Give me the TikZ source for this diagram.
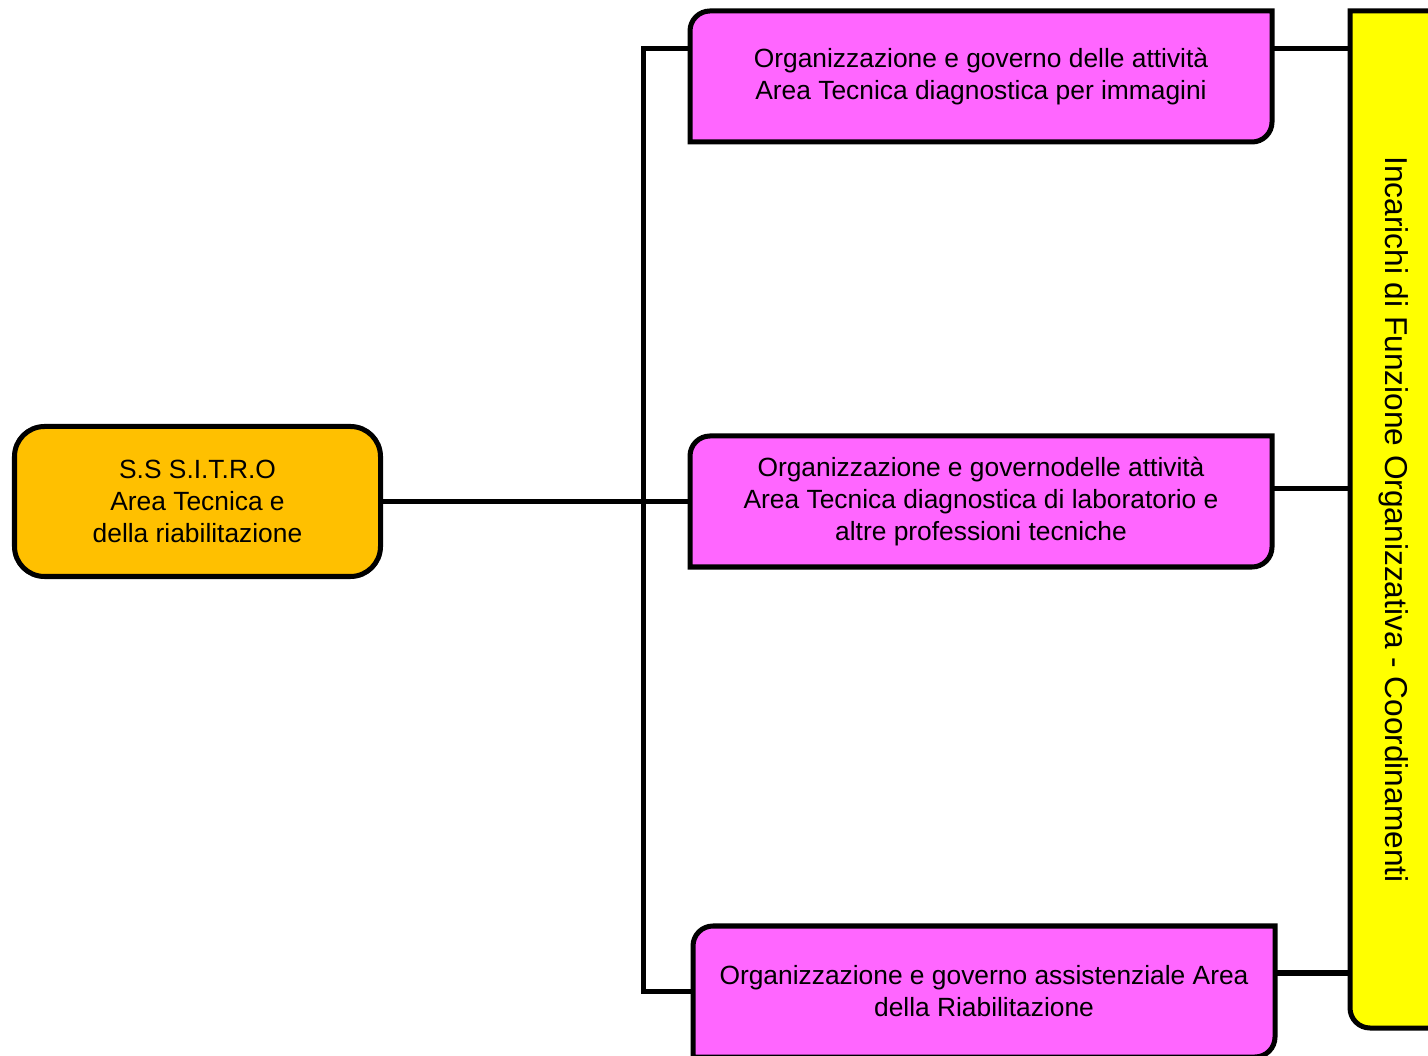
\documentclass[tikz,border=0pt]{standalone}
\usepackage{fontspec}
\setmainfont{Liberation Sans}
\usetikzlibrary{backgrounds}
\definecolor{orangebox}{HTML}{FFC000}
\definecolor{magbox}{HTML}{FF66FF}
\definecolor{yelbox}{HTML}{FFFF00}

\begin{document}
\begin{tikzpicture}[
  line width=2.85pt,
  txt/.style={align=center, inner sep=0pt, font=\fontsize{15pt}{18.2pt}\selectfont},
  unit/.style={txt, minimum width=11.54cm, minimum height=2.52cm},
  boxline/.style={draw=black, line width=2.85pt},
  wire/.style={draw=black, line width=2.85pt}
]
\useasboundingbox (0,0) rectangle (28.56,21.1);

% root
\node[txt, draw, fill=orangebox, rounded corners=6mm,
      minimum width=7.32cm, minimum height=3cm] (sitro) at (3.95,11.07)
  {S.S S.I.T.R.O\\Area Tecnica e\\della riabilitazione};

% units
\node[unit] (imm) at (19.62,19.57)
  {Organizzazione e governo delle attività\\Area Tecnica diagnostica per immagini};
\node[unit] (lab) at (19.62,11.07)
  {Organizzazione e governodelle attività\\Area Tecnica diagnostica di laboratorio e\\altre professioni tecniche};
\node[unit] (ria) at (19.68,1.27)
  {Organizzazione e governo assistenziale Area\\della Riabilitazione};

% side bar
\node[txt, minimum width=1.64cm, minimum height=20.24cm] (coord) at (27.87,10.71) {};
\node[rotate=-90, inner sep=0pt, font=\fontsize{18pt}{21pt}\selectfont] (coordlbl) at (coord.center)
  {Incarichi di Funzione Organizzativa - Coordinamenti};

\begin{scope}[on background layer]
  \foreach \u in {imm,lab,ria}
    \draw[boxline, fill=magbox] (\u.south west) -- ([yshift=-4mm]\u.north west)
      arc[start angle=180, end angle=90, radius=4mm] -- (\u.north east)
      -- ([yshift=4mm]\u.south east)
      arc[start angle=0, end angle=-90, radius=4mm] -- cycle;
  \draw[boxline, fill=yelbox] (coord.north west) -- ([yshift=4mm]coord.south west)
    arc[start angle=180, end angle=270, radius=4mm] -- (coord.south east)
    -- (coord.north east) -- cycle;
\end{scope}

% connectors
\coordinate (spine) at (12.86,11.07);
\draw[wire] (sitro.east) -- (lab.west);
\draw[wire] ([yshift=5.5mm]imm.west) -| (spine |- ria.west) -- (ria.west);
\draw[wire] ([yshift=5.5mm]imm.east) coordinate (r1) -- (r1 -| coord.west);
\draw[wire] ([yshift=2.5mm]lab.east) coordinate (r2) -- (r2 -| coord.west);
\draw[wire] ([yshift=3.7mm]ria.east) coordinate (r3) -- (r3 -| coord.west);
\end{tikzpicture}
\end{document}
